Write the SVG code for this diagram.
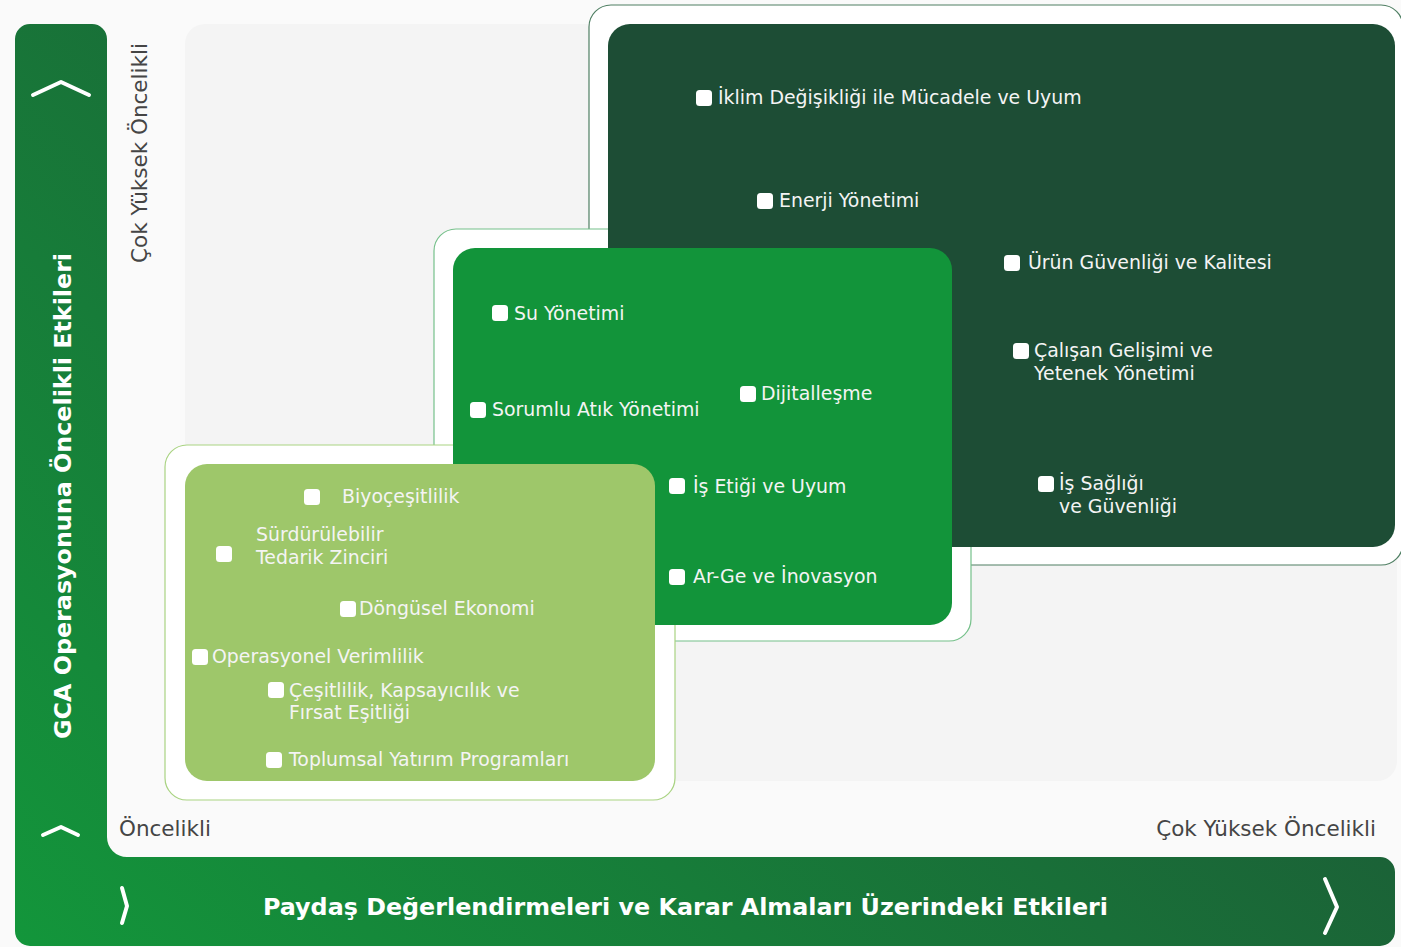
<svg xmlns="http://www.w3.org/2000/svg" width="1401" height="947" viewBox="0 0 1401 947">
<defs>
<linearGradient id="gbar" gradientUnits="userSpaceOnUse" x1="15" y1="946" x2="900" y2="24">
<stop offset="0" stop-color="#13963b"/>
<stop offset="1" stop-color="#1d5536"/>
</linearGradient>
</defs>
<style>
.item{font-family:"DejaVu Sans","Verdana",sans-serif;font-size:18.9px;fill:#f4f4f4}
.axis{font-family:"DejaVu Sans","Verdana",sans-serif;font-size:21.5px;fill:#454545}
.title{font-family:"DejaVu Sans","Verdana",sans-serif;font-size:23.8px;font-weight:bold;fill:#ffffff}
.cb{fill:#ffffff}
.chev{fill:none;stroke:#ffffff;stroke-width:4;stroke-linecap:round;stroke-linejoin:round}
</style>
<rect width="1401" height="947" fill="#fafafa"/>
<rect id="panel" x="185" y="24" width="1212" height="757" rx="20" fill="#f4f4f4"/>

<g id="frame">
<path d="M30,24 H92 A15,15 0 0 1 107,39 V837 A20,20 0 0 0 127,857 H1380 A15,15 0 0 1 1395,872 V931 A15,15 0 0 1 1380,946 H30 A15,15 0 0 1 15,931 V39 A15,15 0 0 1 30,24 Z" fill="url(#gbar)"/>
<polyline class="chev" points="33,95 61,82 89,95"/>
<polyline class="chev" points="43,835 61,827 78,835"/>
<polyline class="chev" points="122,888 127,906 122,923"/>
<polyline class="chev" points="1325,879 1337,907 1325,933"/>
<text class="title" transform="translate(71,496) rotate(-90)" text-anchor="middle">GCA Operasyonuna Öncelikli Etkileri</text>
<text class="title" x="685.5" y="915" text-anchor="middle">Paydaş Değerlendirmeleri ve Karar Almaları Üzerindeki Etkileri</text>
</g>

<g id="axis-labels">
<text class="axis" transform="translate(147,153) rotate(-90)" text-anchor="middle">Çok Yüksek Öncelikli</text>
<text class="axis" x="119" y="836">Öncelikli</text>
<text class="axis" x="1376" y="836" text-anchor="end">Çok Yüksek Öncelikli</text>
</g>

<g id="outer-frames">
<rect x="589" y="5" width="814" height="560" rx="22" fill="#ffffff" stroke="#4f7f63" stroke-width="1.2"/>
<rect x="434" y="229" width="537" height="412" rx="22" fill="#ffffff" stroke="#75c08a" stroke-width="1.2"/>
<rect x="165" y="445" width="510" height="355" rx="22" fill="#ffffff" stroke="#a9d382" stroke-width="1.2"/>
</g>

<g id="very-high">
<rect x="608" y="24" width="787" height="523" rx="22" fill="#1d4d35"/>
<rect class="cb" x="696" y="90" width="16" height="16" rx="3.5"/>
<text class="item" x="718" y="104">İklim Değişikliği ile Mücadele ve Uyum</text>
<rect class="cb" x="757" y="193" width="16" height="16" rx="3.5"/>
<text class="item" x="779" y="207">Enerji Yönetimi</text>
<rect class="cb" x="1004" y="255" width="16" height="16" rx="3.5"/>
<text class="item" x="1028" y="269">Ürün Güvenliği ve Kalitesi</text>
<rect class="cb" x="1013" y="343" width="16" height="16" rx="3.5"/>
<text class="item" x="1034" y="357">Çalışan Gelişimi ve</text>
<text class="item" x="1034" y="380">Yetenek Yönetimi</text>
<rect class="cb" x="1038" y="476" width="16" height="16" rx="3.5"/>
<text class="item" x="1059" y="490">İş Sağlığı</text>
<text class="item" x="1059" y="513">ve Güvenliği</text>
</g>

<g id="high">
<rect x="453" y="248" width="499" height="377" rx="22" fill="#12943a"/>
<rect class="cb" x="492" y="305" width="16" height="16" rx="3.5"/>
<text class="item" x="514" y="320">Su Yönetimi</text>
<rect class="cb" x="470" y="402" width="16" height="16" rx="3.5"/>
<text class="item" x="492" y="416">Sorumlu Atık Yönetimi</text>
<rect class="cb" x="740" y="386" width="16" height="16" rx="3.5"/>
<text class="item" x="761" y="400">Dijitalleşme</text>
<rect class="cb" x="669" y="478" width="16" height="16" rx="3.5"/>
<text class="item" x="693" y="493">İş Etiği ve Uyum</text>
<rect class="cb" x="669" y="569" width="16" height="16" rx="3.5"/>
<text class="item" x="693" y="583">Ar-Ge ve İnovasyon</text>
</g>

<g id="priority">
<rect x="185" y="464" width="470" height="317" rx="22" fill="#9ec76a"/>
<rect class="cb" x="304" y="489" width="16" height="16" rx="3.5"/>
<text class="item" x="342" y="503">Biyoçeşitlilik</text>
<rect class="cb" x="216" y="546" width="16" height="16" rx="3.5"/>
<text class="item" x="256" y="541">Sürdürülebilir</text>
<text class="item" x="256" y="564">Tedarik Zinciri</text>
<rect class="cb" x="340" y="601" width="16" height="16" rx="3.5"/>
<text class="item" x="359" y="615">Döngüsel Ekonomi</text>
<rect class="cb" x="192" y="649" width="16" height="16" rx="3.5"/>
<text class="item" x="212" y="663">Operasyonel Verimlilik</text>
<rect class="cb" x="268" y="682" width="16" height="16" rx="3.5"/>
<text class="item" x="289" y="697">Çeşitlilik, Kapsayıcılık ve</text>
<text class="item" x="289" y="719">Fırsat Eşitliği</text>
<rect class="cb" x="266" y="752" width="16" height="16" rx="3.5"/>
<text class="item" x="289" y="766">Toplumsal Yatırım Programları</text>
</g>
</svg>
